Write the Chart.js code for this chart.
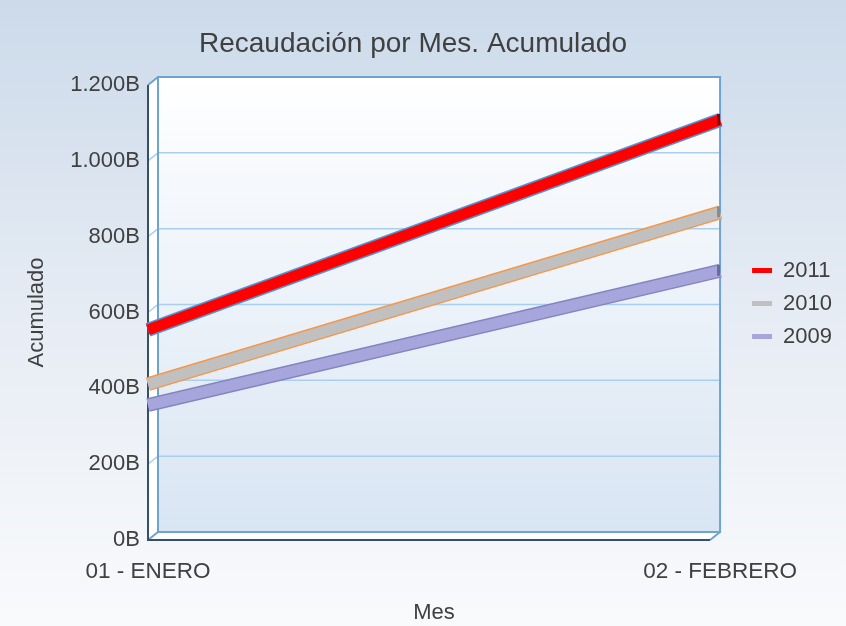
<!DOCTYPE html>
<html>
<head>
<meta charset="utf-8">
<script src="https://cdn.jsdelivr.net/npm/chart.js@4.4.1/dist/chart.umd.min.js"></script>
<style>
  html, body { margin: 0; padding: 0; background: #ffffff; }
  #wrap { width: 846px; height: 626px; }
</style>
</head>
<body>
<div id="wrap"><canvas id="recaudacionChart" width="846" height="626"></canvas></div>
<script>
// Recaudación por Mes, acumulado (valores en millones, eje en "B")
const meses = ['01 - ENERO', '02 - FEBRERO'];
const series = ['2011', '2010', '2009'];
const acumulado2011 = [554, 1108];
const acumulado2010 = [411, 864];
const acumulado2009 = [356, 710];
const yMax = 1200;
const yStep = 200;

const fillColors = ['#ff0000', '#c0c0c0', '#a6a6dc'];
const edgeColors = ['#4f94d4', '#f79646', '#8585bd'];
const endColors = ['#8b0000', '#8a8a8a', '#6a6aa0'];

const DEPTH_X = 10, DEPTH_Y = 8; // 3D depth offset of the back wall

function fmtB(v) {
    if (v >= 1000) {
        return Math.floor(v / 1000) + '.' + String(v % 1000).padStart(3, '0') + 'B';
    }
    return v + 'B';
}

// background + 3D walls
const walls = {
    id: 'walls',
    afterLayout(chart) {
        // nudge title and legend to where the original puts them
        chart.titleBlock.left -= 18;
        chart.titleBlock.right -= 18;
        chart.legend.top -= 9;
        chart.legend.bottom -= 9;
    },
    beforeDraw(chart) {
        const {ctx, chartArea: a, scales: {y}} = chart;
        ctx.save();
        let g = ctx.createLinearGradient(0, 0, 0, chart.height);
        g.addColorStop(0, '#ccdaea');
        g.addColorStop(0.5, '#e6ecf4');
        g.addColorStop(1, '#f9fafc');
        ctx.fillStyle = g;
        ctx.fillRect(0, 0, chart.width, chart.height);

        const fl = a.left, fr = a.right - DEPTH_X, ft = a.top, fb = a.bottom;
        const bl = a.left + DEPTH_X, br = a.right, bt = a.top - DEPTH_Y, bb = a.bottom - DEPTH_Y;

        // side wall and floor
        ctx.fillStyle = '#ffffff';
        ctx.beginPath();
        ctx.moveTo(fl, ft); ctx.lineTo(bl, bt); ctx.lineTo(bl, bb); ctx.lineTo(fl, fb);
        ctx.closePath(); ctx.fill();
        ctx.beginPath();
        ctx.moveTo(fl, fb); ctx.lineTo(bl, bb); ctx.lineTo(br, bb); ctx.lineTo(fr, fb);
        ctx.closePath(); ctx.fill();

        // back wall
        g = ctx.createLinearGradient(0, bt, 0, bb);
        g.addColorStop(0, '#ffffff');
        g.addColorStop(1, '#d8e5f3');
        ctx.fillStyle = g;
        ctx.fillRect(bl, bt, br - bl, bb - bt);

        // grid lines on back wall + side wall
        ctx.strokeStyle = '#a8d0ee';
        ctx.lineWidth = 1.5;
        for (let v = yStep; v < yMax; v += yStep) {
            const py = y.getPixelForValue(v);
            ctx.beginPath();
            ctx.moveTo(fl, py); ctx.lineTo(bl, py - DEPTH_Y); ctx.lineTo(br, py - DEPTH_Y);
            ctx.stroke();
        }

        ctx.strokeStyle = '#6fa3d0';
        ctx.lineWidth = 2;
        ctx.strokeRect(bl, bt, br - bl, bb - bt);
        ctx.beginPath();
        ctx.moveTo(fl, ft); ctx.lineTo(bl, bt);
        ctx.moveTo(fl, fb); ctx.lineTo(bl, bb);
        ctx.moveTo(fr, fb); ctx.lineTo(br, bb);
        ctx.stroke();

        ctx.strokeStyle = '#34506c';
        ctx.lineWidth = 2;
        ctx.beginPath();
        ctx.moveTo(fl, ft); ctx.lineTo(fl, fb); ctx.lineTo(fr, fb);
        ctx.stroke();
        ctx.restore();
    }
};

// ribbon edges behind each line, and the dark end face
const ribbons = {
    id: 'ribbons',
    beforeDatasetsDraw(chart) {
        const ctx = chart.ctx;
        ctx.save();
        for (let i = chart.data.datasets.length - 1; i >= 0; i--) {
            const pts = chart.getDatasetMeta(i).data;
            ctx.strokeStyle = edgeColors[i];
            ctx.lineWidth = 14;
            ctx.lineCap = 'butt';
            ctx.beginPath();
            pts.forEach((p, k) => k ? ctx.lineTo(p.x, p.y) : ctx.moveTo(p.x, p.y));
            ctx.stroke();
        }
        ctx.restore();
    },
    afterDatasetsDraw(chart) {
        const ctx = chart.ctx;
        ctx.save();
        chart.data.datasets.forEach((ds, i) => {
            const pts = chart.getDatasetMeta(i).data;
            const p = pts[pts.length - 1];
            ctx.fillStyle = endColors[i];
            ctx.fillRect(p.x - 3, p.y - 6, 3, 11);
        });
        ctx.restore();
    }
};

Chart.defaults.font.family = '"Liberation Sans", Arial, sans-serif';
Chart.defaults.color = '#404040';

const ctx = document.getElementById('recaudacionChart').getContext('2d');
const recaudacionChart = new Chart(ctx, {
    type: 'line',
    data: {
        labels: meses,
        datasets: [
            { label: series[0], data: acumulado2011 },
            { label: series[1], data: acumulado2010 },
            { label: series[2], data: acumulado2009 },
        ].map((d, i) => Object.assign(d, {
            borderColor: fillColors[i],
            backgroundColor: fillColors[i],
            borderWidth: 11,
            borderCapStyle: 'butt',
            pointRadius: 0,
            tension: 0,
            fill: false,
        })),
    },
    options: {
        responsive: false,
        animation: false,
        layout: { padding: { left: 20, right: 4, top: 0, bottom: 0 } },
        plugins: {
            title: {
                display: true,
                text: 'Recaudación por Mes. Acumulado',
                font: { size: 28, weight: 'normal' },
                color: '#404040',
                padding: { top: 27, bottom: 24.4 },
            },
            legend: {
                position: 'right',
                fullSize: false,
                labels: {
                    font: { size: 22 },
                    color: '#404040',
                    boxWidth: 20,
                    boxHeight: 5,
                    padding: 11,
                    generateLabels(chart) {
                        return Chart.defaults.plugins.legend.labels.generateLabels(chart).map(l => {
                            l.lineWidth = 0;
                            l.fillStyle = fillColors[l.datasetIndex];
                            return l;
                        });
                    },
                },
            },
            tooltip: { enabled: false },
        },
        scales: {
            x: {
                offset: false,
                grid: { display: false, drawTicks: false },
                border: { display: false },
                ticks: { font: { size: 22.5 }, padding: 18.5, maxRotation: 0, autoSkip: false },
                title: { display: true, text: 'Mes', font: { size: 22 }, padding: { top: 0, bottom: 0 } },
                afterFit(s) { s.height = 86; },
            },
            y: {
                min: 0,
                max: yMax,
                grid: { display: false, drawTicks: false },
                border: { display: false },
                ticks: { stepSize: yStep, font: { size: 22 }, padding: 8, callback: v => fmtB(v) },
                title: { display: true, text: 'Acumulado', font: { size: 22 }, padding: { top: 4, bottom: 0 } },
                afterFit(s) { s.width = 128; },
            },
            gap: {
                position: 'right',
                display: true,
                grid: { display: false, drawTicks: false },
                border: { display: false },
                ticks: { display: false },
                afterFit(s) { s.width = 21; },
            },
        },
    },
    plugins: [walls, ribbons],
});
</script>
</body>
</html>
